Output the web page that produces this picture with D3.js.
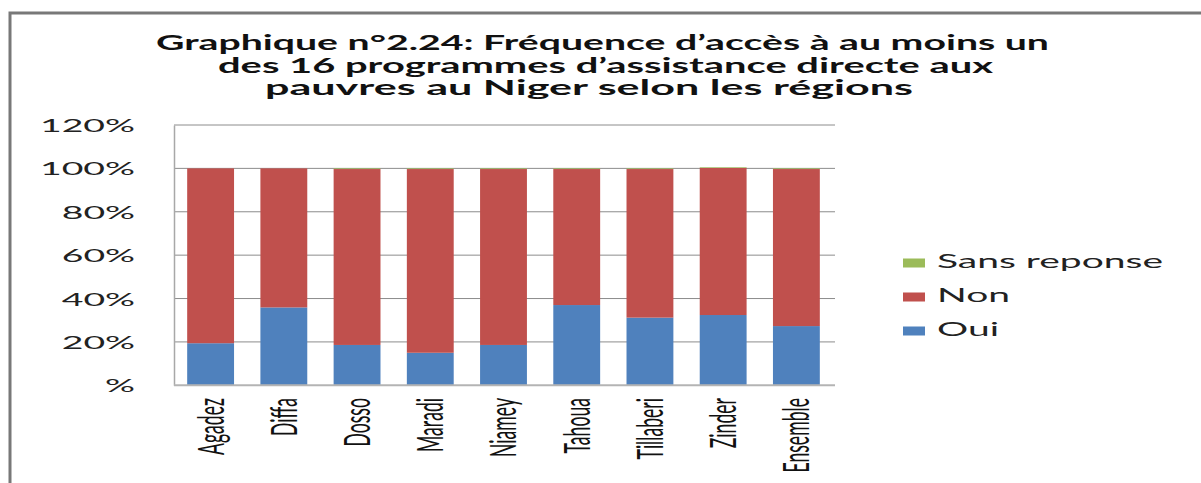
<!DOCTYPE html>
<html>
<head>
<meta charset="utf-8">
<script src="https://cdn.jsdelivr.net/npm/d3@7"></script>
<style>
  html, body { margin: 0; padding: 0; background: #fff; }
  svg { display: block; }
</style>
</head>
<body>
<div id="chart"></div>
<script>
const regions = ["Agadez", "Diffa", "Dosso", "Maradi", "Niamey", "Tahoua", "Tillaberi", "Zinder", "Ensemble"]
const oui = [19.4, 35.9, 18.6, 15.0, 18.6, 37.0, 31.2, 32.4, 27.3]
const non = [80.6, 64.1, 81.1, 84.7, 81.1, 62.7, 68.5, 67.8, 72.4]
const sans_reponse = [0, 0, 0.3, 0.3, 0.3, 0.3, 0.3, 0.3, 0.3]
const series_names = ["Oui", "Non", "Sans reponse"]
const series_colors = ["#4f81bd", "#c0504d", "#9bbb59"]
const y_ticks = [0, 20, 40, 60, 80, 100, 120]
const title_lines = [
  "Graphique n°2.24: Fréquence d’accès à au moins un",
  "des 16 programmes d’assistance  directe aux",
  "pauvres au Niger selon les régions"
]

const width = 1201
const height = 483

const svg = d3.select("#chart")
  .append("svg")
  .attr("width", width)
  .attr("height", height)

// frame of the chart area (only the left and top edges are in the picture)
svg.append("path")
  .attr("d", `M10,${height} L10,13 L${width},13`)
  .attr("fill", "none")
  .attr("stroke", "#787878")
  .attr("stroke-width", 3)

// title, three lines, stretched wide like the original
const title_pos = [[156, 50, 893], [218, 73, 775], [265, 95, 648]]
title_lines.forEach((line, i) => {
  svg.append("text")
    .attr("x", title_pos[i][0])
    .attr("y", title_pos[i][1])
    .attr("textLength", title_pos[i][2])
    .attr("lengthAdjust", "spacingAndGlyphs")
    .style("font-family", "Lato, 'Open Sans', sans-serif")
    .style("font-weight", "700")
    .style("font-size", "20px")
    .style("fill", "#111")
    .text(line)
})

const rows = regions.map((r, i) => ({
  region: r,
  "Oui": oui[i],
  "Non": non[i],
  "Sans reponse": sans_reponse[i]
}))

const x = d3.scaleBand()
  .domain(regions)
  .range([174, 833])
  .paddingInner(0.36)
  .paddingOuter(0.18)

const y = d3.scaleLinear()
  .domain([0, 120])
  .range([385.3, 125])

// gridlines
svg.append("g")
  .selectAll("line")
  .data(y_ticks.slice(1))
  .join("line")
  .attr("x1", 174)
  .attr("x2", 835)
  .attr("y1", d => y(d))
  .attr("y2", d => y(d))
  .attr("stroke", "#8c8c8c")
  .attr("stroke-width", 1)

const stacked = d3.stack().keys(series_names)(rows)

svg.append("g")
  .selectAll("g")
  .data(stacked)
  .join("g")
  .attr("fill", (d, i) => series_colors[i])
  .selectAll("rect")
  .data(d => d)
  .join("rect")
  .attr("x", d => x(d.data.region))
  .attr("width", x.bandwidth())
  .attr("y", d => y(d[1]))
  .attr("height", d => Math.max(0, y(d[0]) - y(d[1])))

// y axis
const yAxis = svg.append("g")
  .attr("transform", "translate(174,0)")
  .call(d3.axisLeft(y)
    .tickValues(y_ticks)
    .tickSize(0)
    .tickPadding(39)
    .tickFormat(d => d === 0 ? "%" : d + "%"))
yAxis.select(".domain").attr("stroke", "#a8a8a8").attr("stroke-width", 1.5)
yAxis.selectAll("text")
  .style("font-family", "Lato, 'Open Sans', sans-serif")
  .style("font-size", "18px")
  .style("fill", "#222")
  .attr("dy", "0.36em")

let y_stretch = 1
yAxis.selectAll("text").each(function (d) {
  if (d === 120) y_stretch = 95 / this.getComputedTextLength()
})
yAxis.selectAll("text").each(function () {
  const w = this.getComputedTextLength()
  d3.select(this).attr("textLength", w * y_stretch).attr("lengthAdjust", "spacingAndGlyphs")
})

// x axis
const xAxis = svg.append("g")
  .attr("transform", "translate(0,385.3)")
  .call(d3.axisBottom(x).tickSize(0).tickSizeOuter(0).tickFormat(""))
xAxis.select(".domain")
  .attr("d", "M174,0H835")
  .attr("stroke", "#b4b4b4")
  .attr("stroke-width", 2)

const x_labels = svg.append("g")
  .selectAll("text")
  .data(regions)
  .join("text")
  .attr("transform", d => `translate(${x(d) + x.bandwidth() / 2},398) rotate(-90)`)
  .attr("text-anchor", "end")
  .attr("dy", "0.36em")
  .style("font-family", "Lato, 'Open Sans', sans-serif")
  .style("font-size", "36px")
  .style("fill", "#111")
  .text(d => d)

let x_stretch = 1
x_labels.each(function (d) {
  if (d === "Agadez") x_stretch = 57 / this.getComputedTextLength()
})
x_labels.each(function () {
  const w = this.getComputedTextLength()
  d3.select(this).attr("textLength", w * x_stretch).attr("lengthAdjust", "spacingAndGlyphs")
})

// legend, top to bottom: Sans reponse, Non, Oui
const legend_order = series_names.slice().reverse()
const legend = svg.append("g")
  .selectAll("g")
  .data(legend_order)
  .join("g")
  .attr("transform", (d, i) => `translate(903,${263 + i * 34})`)

legend.append("rect")
  .attr("x", 0)
  .attr("y", -4.5)
  .attr("width", 22)
  .attr("height", 9)
  .attr("fill", d => series_colors[series_names.indexOf(d)])

const legend_text = legend.append("text")
  .attr("x", 34)
  .attr("y", 5)
  .style("font-family", "Lato, 'Open Sans', sans-serif")
  .style("font-size", "19px")
  .style("fill", "#222")
  .text(d => d)

let l_stretch = 1
legend_text.each(function (d) {
  if (d === "Sans reponse") l_stretch = 226 / this.getComputedTextLength()
})
legend_text.each(function () {
  const w = this.getComputedTextLength()
  d3.select(this).attr("textLength", w * l_stretch).attr("lengthAdjust", "spacingAndGlyphs")
})
</script>
</body>
</html>
